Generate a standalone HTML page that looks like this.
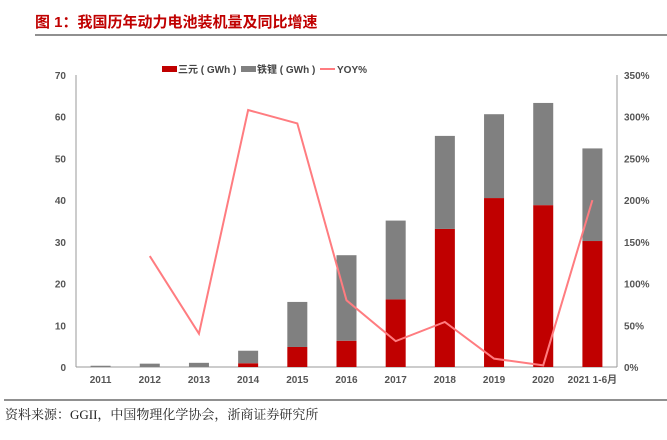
<!DOCTYPE html>
<html><head><meta charset="utf-8"><style>
body{margin:0;background:#fff;width:667px;height:435px;overflow:hidden;font-family:"Liberation Sans","Noto Sans CJK SC",sans-serif}
</style></head><body>
<svg width="667" height="435">
<text x="35" y="27" font-size="15" font-weight="bold" fill="#c00000" font-family="Liberation Sans,Noto Sans CJK SC,sans-serif">图 1：我国历年动力电池装机量及同比增速</text>
<line x1="35" y1="35" x2="667" y2="35" stroke="#222" stroke-width="1"/>
<g id="plot"></g>
<g font-size="10" font-weight="bold" fill="#444">
<rect x="162" y="66" width="15" height="6" fill="#c00000"/>
<text x="178" y="73">三元 ( GWh )</text>
<rect x="241" y="66" width="15" height="6" fill="#808080"/>
<text x="257" y="73">铁锂 ( GWh )</text>
<line x1="320" y1="69" x2="335" y2="69" stroke="#ff7c80" stroke-width="2"/>
<text x="337" y="73">YOY%</text>
</g>
<line x1="4" y1="400" x2="667" y2="400" stroke="#222"/>
<text x="5" y="419" font-size="13" fill="#222" font-family="Liberation Serif,Noto Serif CJK SC,serif">资料来源：GGII，中国物理化学协会，浙商证券研究所</text>
</svg>
<script>
const categories=["2011","2012","2013","2014","2015","2016","2017","2018","2019","2020","2021 1-6月"];
const ternary=[0,0,0,0.9,4.8,6.3,16.2,33.1,40.5,38.8,30.2];
const lfp=[0.3,0.8,1.0,3.0,10.8,20.5,18.9,22.3,20.1,24.5,22.2];
const yoy=[null,133,40,308,292,80,31,54,10,2,200];
const leftTicks=[0,10,20,30,40,50,60,70];
const rightTicks=[0,50,100,150,200,250,300,350];
const NS="http://www.w3.org/2000/svg";
const g=document.getElementById('plot');
const x0=76,x1=617,yb=367,yt=75;
const y=v=>yb-(v/70)*(yb-yt);
const yr=v=>yb-(v/350)*(yb-yt);
const step=(x1-x0)/categories.length;
const xc=i=>x0+step*(i+0.5);
function mk(t,a){const e=document.createElementNS(NS,t);for(const k in a)e.setAttribute(k,a[k]);g.appendChild(e);return e;}
let e;
e=mk('line',{x1:x0,y1:yt,x2:x0,y2:yb,stroke:'#999'});


e=mk('line',{x1:x1,y1:yt,x2:x1,y2:yb,stroke:'#999'});


e=mk('line',{x1:x0,y1:yb,x2:x1,y2:yb,stroke:'#999'});


leftTicks.forEach(v=>{
 e=mk('text',{x:x0-10,y:y(v)+4,'text-anchor':'end','font-size':10,'font-weight':'bold',fill:'#555'});e.textContent=v;
 
 
});
rightTicks.forEach(v=>{
 e=mk('text',{x:x1+7,y:yr(v)+4,'font-size':10,'font-weight':'bold',fill:'#555'});e.textContent=v+'%';
 
 
});
categories.forEach((c,i)=>{
 const bw=20,bx=xc(i)-bw/2;
 e=mk('rect',{x:bx,y:y(ternary[i]),width:bw,height:yb-y(ternary[i]),fill:'#c00000'});
 
 
 e=mk('rect',{x:bx,y:y(ternary[i]+lfp[i]),width:bw,height:y(ternary[i])-y(ternary[i]+lfp[i]),fill:'#808080'});
 
 
 e=mk('text',{x:xc(i),y:yb+16,'text-anchor':'middle','font-size':10,'font-weight':'bold',fill:'#555'});e.textContent=c;
 
 
});
const pts=yoy.map((v,i)=>v==null?null:xc(i)+','+yr(v)).filter(p=>p);
e=mk('polyline',{points:pts.join(' '),fill:'none',stroke:'#ff7c80','stroke-width':2});


</script>
</body></html>
